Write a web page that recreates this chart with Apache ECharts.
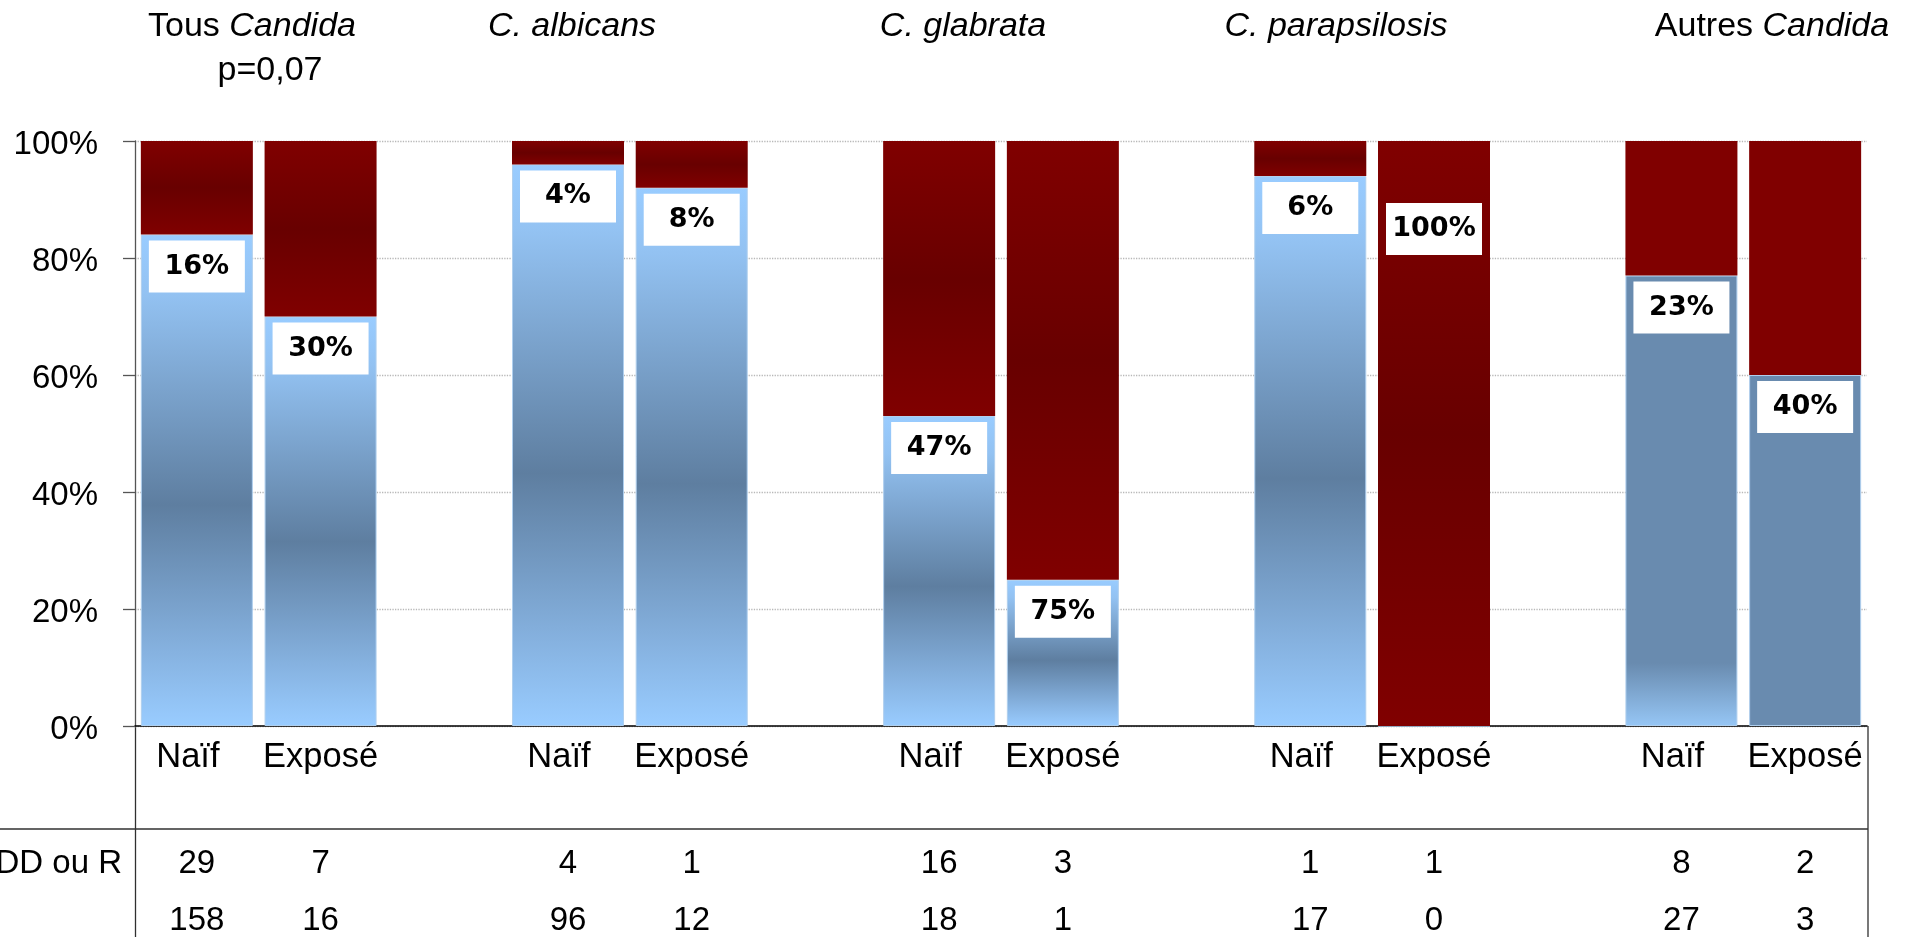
<!DOCTYPE html>
<html>
<head>
<meta charset="utf-8">
<script src="https://cdn.jsdelivr.net/npm/echarts@6/dist/echarts.min.js"></script>
<style>
  html, body { margin: 0; padding: 0; background: #fff; }
  #chart { width: 1914px; height: 937px; }
</style>
</head>
<body>
<div id="chart"></div>
<script>
// ---- Data ----------------------------------------------------------------
// Candida groups, left to right ({i|...} = italic part of the heading)
const groupTitles = ['Tous {i|Candida}', '{i|C. albicans}', '{i|C. glabrata}', '{i|C. parapsilosis}', 'Autres {i|Candida}'];
const titleNote = 'p=0,07';
const cohorts = ['Naïf', 'Exposé'];
// Share of SDD ou R isolates (%), per group: [Naïf, Exposé]
const resistantPct = [[16, 30], [4, 8], [47, 75], [6, 100], [23, 40]];
// Isolate counts per group: [Naïf, Exposé]
const countSddR = [[29, 7], [4, 1], [16, 3], [1, 1], [8, 2]];
const countS = [[158, 16], [96, 12], [18, 1], [17, 0], [27, 3]];
const rowLabel = 'SDD ou R';
const yTicks = [0, 20, 40, 60, 80, 100];

// ---- Layout & style ------------------------------------------------------
const W = 1914, H = 937;
const GRID = { left: 135, top: 141, right: 1867, bottom: 726 };
const TITLE_X = [252, 572, 963, 1336, 1772];
const TEXT_FONT = 'Liberation Sans, Arial, sans-serif';
const LABEL_FONT = 'DejaVu Sans, Verdana, sans-serif';
const flatGroup = [false, false, false, false, true];

const grad = (stops) => new echarts.graphic.LinearGradient(0, 0, 0, 1,
  stops.map(([offset, color]) => ({ offset, color })));
const blueBand = () => grad([[0, '#99CCFF'], [0.12, '#93C2F2'], [0.55, '#5E7EA0'], [0.85, '#86B2E0'], [1, '#99CCFF']]);
const redBand = () => grad([[0, '#800000'], [0.5, '#680000'], [1, '#800000']]);

// One category slot per bar, with an empty slot between groups
const slots = [];
groupTitles.forEach((_, g) => {
  cohorts.forEach((_, c) => slots.push({ g, c }));
  if (g < groupTitles.length - 1) slots.push(null);
});
const categories = slots.map(s => (s ? cohorts[s.c] : ''));
const rowSddR = slots.map(s => (s ? String(countSddR[s.g][s.c]) : ''));
const rowS = slots.map(s => (s ? String(countS[s.g][s.c]) : ''));

const pctLabel = {
  show: true,
  position: 'insideTop',
  distance: 6,
  formatter: p => resistantPct[slots[p.dataIndex].g][slots[p.dataIndex].c] + '%',
  backgroundColor: '#ffffff',
  width: 96,
  height: 52,
  lineHeight: 52,
  align: 'center',
  fontFamily: LABEL_FONT,
  fontWeight: 'bold',
  fontSize: 27,
  color: '#000'
};

const susceptibleData = slots.map(s => {
  if (!s) return '-';
  const v = 100 - resistantPct[s.g][s.c];
  let color;
  if (flatGroup[s.g]) {
    color = s.c === 0
      ? grad([[0, '#698BAF'], [0.86, '#698BAF'], [1, '#96C6F5']])
      : '#698BAF';
  } else {
    color = blueBand();
  }
  return { value: v, itemStyle: { color }, label: { show: v > 0 } };
});

const resistantData = slots.map(s => {
  if (!s) return '-';
  const v = resistantPct[s.g][s.c];
  const color = flatGroup[s.g] ? '#800000' : redBand();
  // when no susceptible part remains, the label sits inside the red bar
  const alone = v >= 100;
  return { value: v, itemStyle: { color }, label: alone ? { show: true, distance: 62 } : { show: false } };
});

const countAxis = (data, offset) => ({
  type: 'category',
  data,
  position: 'bottom',
  offset,
  axisLine: { show: false },
  axisTick: { show: false },
  axisLabel: { interval: 0, margin: 0, fontFamily: TEXT_FONT, fontSize: 33, lineHeight: 33, color: '#000' }
});

const graphics = [];
groupTitles.forEach((t, g) => {
  graphics.push({
    type: 'text', x: TITLE_X[g], y: 27,
    style: {
      text: t, fontFamily: TEXT_FONT, fontSize: 34, fill: '#000',
      align: 'center', verticalAlign: 'middle',
      rich: { i: { fontStyle: 'italic', fontFamily: TEXT_FONT, fontSize: 34, fill: '#000' } }
    }
  });
});
graphics.push({
  type: 'text', x: 270, y: 71,
  style: { text: titleNote, fontFamily: TEXT_FONT, fontSize: 34, fill: '#000', align: 'center', verticalAlign: 'middle' }
});
// table under the axis
const tableLine = { stroke: '#303030', lineWidth: 1.3 };
graphics.push(
  { type: 'line', shape: { x1: GRID.left + 0.5, y1: GRID.bottom, x2: GRID.left + 0.5, y2: H }, style: tableLine },
  { type: 'line', shape: { x1: GRID.right + 1, y1: GRID.bottom, x2: GRID.right + 1, y2: H }, style: tableLine },
  { type: 'line', shape: { x1: 0, y1: 829, x2: GRID.right + 1, y2: 829 }, style: tableLine },
  { type: 'text', x: 122, y: 864,
    style: { text: rowLabel, fontFamily: TEXT_FONT, fontSize: 33, fill: '#000', align: 'right', verticalAlign: 'middle' } }
);

const chart = echarts.init(document.getElementById('chart'), null, { renderer: 'canvas' });
chart.setOption({
  animation: false,
  backgroundColor: '#ffffff',
  grid: { left: GRID.left, top: GRID.top, right: W - GRID.right, bottom: H - GRID.bottom, containLabel: false },
  xAxis: [
    {
      type: 'category',
      data: categories,
      axisLine: { show: true, lineStyle: { color: '#000', width: 1.5 } },
      axisTick: { show: false },
      axisLabel: {
        interval: 0, margin: 14, fontFamily: TEXT_FONT, fontSize: 34.5, lineHeight: 34, color: '#000',
        formatter: v => (v === cohorts[0] ? '{n|' + v + '}' : v),
        rich: { n: { fontFamily: TEXT_FONT, fontSize: 34.5, lineHeight: 34, color: '#000', padding: [0, 18, 0, 0] } }
      },
      splitLine: { show: false }
    },
    countAxis(rowSddR, 121),
    countAxis(rowS, 178)
  ],
  yAxis: {
    type: 'value',
    min: yTicks[0],
    max: yTicks[yTicks.length - 1],
    interval: yTicks[1] - yTicks[0],
    axisLine: { show: true, lineStyle: { color: '#555', width: 1.3 } },
    axisTick: { show: true, inside: false, length: 12, lineStyle: { color: '#555', width: 1.3 } },
    axisLabel: {
      margin: 37,
      formatter: v => '{t|' + v + '%}',
      rich: { t: { fontFamily: TEXT_FONT, fontSize: 33, color: '#000', padding: [8, 0, 0, 0] } }
    },
    splitLine: { show: true, lineStyle: { type: 'dotted', color: '#B8B8B8', width: 1.3 } }
  },
  series: [
    {
      name: 'S',
      type: 'bar',
      stack: 'isolates',
      barWidth: 112,
      data: susceptibleData,
      itemStyle: { borderColor: '#AFCFEE', borderWidth: 1 },
      label: pctLabel,
      z: 2
    },
    {
      name: rowLabel,
      type: 'bar',
      stack: 'isolates',
      barWidth: 112,
      data: resistantData,
      label: pctLabel,
      z: 2
    }
  ],
  graphic: graphics
});
</script>
</body>
</html>
